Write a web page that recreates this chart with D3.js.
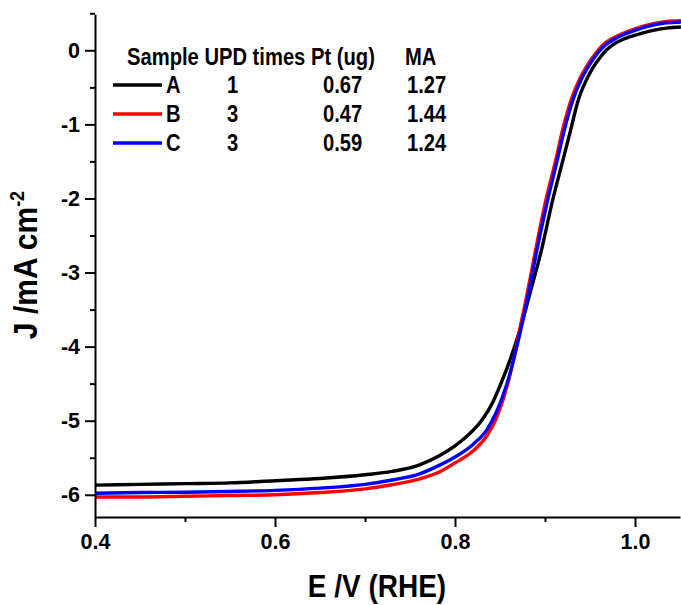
<!DOCTYPE html>
<html>
<head>
<meta charset="utf-8">
<script src="https://cdn.jsdelivr.net/npm/d3@7"></script>
<style>
  html, body { margin: 0; padding: 0; background: #fff; }
  svg { display: block; }
  text { font-family: "Liberation Sans", Arial, sans-serif; font-weight: bold; fill: #000; }
</style>
</head>
<body>
<svg id="chart" width="681" height="605"></svg>
<script>
// ---- Data (E in V vs RHE, J in mA cm^-2) ----
const seriesNames = ["A", "B", "C"];
const seriesColors = ["#000000", "#ff0000", "#0000ff"];

const E_A = [0.40, 0.45, 0.50, 0.55, 0.60, 0.65, 0.70, 0.73, 0.76, 0.783, 0.80, 0.815, 0.83, 0.842, 0.852, 0.862, 0.872, 0.884, 0.896, 0.908, 0.920, 0.929, 0.937, 0.946, 0.954, 0.961, 0.968, 0.976, 0.985, 0.994, 1.01, 1.02, 1.035, 1.051];
const J_A = [-5.87, -5.86, -5.85, -5.84, -5.81, -5.78, -5.73, -5.685, -5.60, -5.47, -5.34, -5.19, -4.99, -4.75, -4.47, -4.15, -3.78, -3.25, -2.70, -2.05, -1.48, -1.05, -0.67, -0.40, -0.22, -0.10, 0.00, 0.08, 0.14, 0.18, 0.24, 0.27, 0.30, 0.314];

const E_B = [0.40, 0.45, 0.50, 0.55, 0.60, 0.65, 0.70, 0.73, 0.76, 0.783, 0.80, 0.82, 0.835, 0.845, 0.853, 0.86, 0.866, 0.871, 0.879, 0.8895, 0.901, 0.912, 0.920, 0.929, 0.938, 0.946, 0.952, 0.959, 0.966, 0.975, 0.985, 1.00, 1.02, 1.035, 1.051];
const J_B = [-6.03, -6.03, -6.02, -6.01, -6.00, -5.97, -5.92, -5.865, -5.79, -5.69, -5.57, -5.41, -5.21, -4.99, -4.73, -4.43, -4.13, -3.82, -3.36, -2.70, -2.02, -1.48, -1.05, -0.67, -0.40, -0.225, -0.11, 0.00, 0.09, 0.16, 0.22, 0.29, 0.36, 0.39, 0.40];

const E_C = [0.40, 0.45, 0.50, 0.55, 0.60, 0.65, 0.70, 0.73, 0.76, 0.783, 0.80, 0.82, 0.835, 0.845, 0.853, 0.86, 0.866, 0.872, 0.880, 0.891, 0.903, 0.9137, 0.922, 0.931, 0.940, 0.948, 0.954, 0.961, 0.968, 0.977, 0.987, 1.00, 1.02, 1.035, 1.051];
const J_C = [-5.98, -5.97, -5.965, -5.955, -5.94, -5.91, -5.86, -5.80, -5.72, -5.60, -5.49, -5.32, -5.13, -4.91, -4.67, -4.41, -4.13, -3.83, -3.38, -2.70, -2.02, -1.48, -1.05, -0.67, -0.40, -0.225, -0.11, 0.00, 0.08, 0.15, 0.21, 0.27, 0.34, 0.37, 0.382];

const xTicks = [0.4, 0.6, 0.8, 1.0];
const xMinorTicks = [0.5, 0.7, 0.9];
const yTicks = [0, -1, -2, -3, -4, -5, -6];
const yMinorTicks = [0.5, -0.5, -1.5, -2.5, -3.5, -4.5, -5.5];

const legendHeader = "Sample UPD times Pt (ug)";
const legendHeader2 = "MA";
const updTimes = ["1", "3", "3"];
const ptMass = ["0.67", "0.47", "0.59"];
const massActivity = ["1.27", "1.44", "1.24"];

// ---- Layout ----
const svg = d3.select("#chart");
const x = d3.scaleLinear().domain([0.4, 1.05]).range([95, 680]);
const y = d3.scaleLinear().domain([-6.3, 0.49]).range([517, 14]);

const series = [
  {name: seriesNames[0], color: seriesColors[0], E: E_A, J: J_A},
  {name: seriesNames[1], color: seriesColors[1], E: E_B, J: J_B},
  {name: seriesNames[2], color: seriesColors[2], E: E_C, J: J_C}
];

// curves
const line = d3.line().x(d => x(d[0])).y(d => y(d[1])).curve(d3.curveMonotoneX);
series.forEach(s => {
  const pts = s.E.map((e, i) => [e, s.J[i]]);
  svg.append("path")
    .attr("d", line(pts))
    .attr("fill", "none")
    .attr("stroke", s.color)
    .attr("stroke-width", 3.4)
    .attr("stroke-linejoin", "round");
});

// axes
const xAxis = d3.axisBottom(x).tickValues(xTicks).tickFormat(d3.format(".1f"))
  .tickSize(10).tickSizeOuter(0).tickPadding(7);
const gx = svg.append("g").attr("transform", `translate(0,${y.range()[0]})`).call(xAxis);
const xMinor = d3.axisBottom(x).tickValues(xMinorTicks).tickFormat("").tickSize(5).tickSizeOuter(0);
const gxm = svg.append("g").attr("transform", `translate(0,${y.range()[0]})`).call(xMinor);
gxm.select(".domain").remove();

const yAxis = d3.axisLeft(y).tickValues(yTicks).tickFormat(d3.format("d"))
  .tickSize(10).tickSizeOuter(0).tickPadding(5);
const gy = svg.append("g").attr("transform", `translate(${x.range()[0]},0)`).call(yAxis);
const yMinor = d3.axisLeft(y).tickValues(yMinorTicks).tickFormat("").tickSize(5).tickSizeOuter(0);
const gym = svg.append("g").attr("transform", `translate(${x.range()[0]},0)`).call(yMinor);
gym.select(".domain").remove();

[gx, gxm, gy, gym].forEach(g => {
  g.selectAll("path, line").attr("stroke", "#000").attr("stroke-width", 2);
  g.selectAll("text").attr("font-size", 21.5).attr("font-family", "Liberation Sans, Arial, sans-serif")
    .attr("font-weight", "bold").attr("fill", "#000");
});
gy.selectAll(".tick text").text(d => d3.format("d")(d).replace("−", "-"));

// axis titles
svg.append("text")
  .attr("transform", "translate(377,597) scale(1,1.15)")
  .attr("text-anchor", "middle")
  .attr("font-size", 28)
  .text("E /V (RHE)");

const yt = svg.append("text")
  .attr("transform", "translate(37,265) rotate(-90) scale(1,1.08)")
  .attr("text-anchor", "middle")
  .attr("font-size", 30);
yt.append("tspan").text("J /mA cm");
yt.append("tspan").attr("font-size", 18).attr("dy", -12).text("-2");

// legend
const lg = svg.append("g");
const headerY = 65, rowY = [93, 122, 151], lineY = [85, 114, 143];
function ltext(xp, yp, str) {
  lg.append("text")
    .attr("transform", `translate(${xp},${yp}) scale(1,1.15)`)
    .attr("font-size", 20.2)
    .text(str);
}
ltext(127, headerY, legendHeader);
ltext(405, headerY, legendHeader2);
series.forEach((s, i) => {
  lg.append("line")
    .attr("x1", 113).attr("x2", 162)
    .attr("y1", lineY[i]).attr("y2", lineY[i])
    .attr("stroke", s.color).attr("stroke-width", 3.4);
  ltext(166, rowY[i], s.name);
  ltext(227, rowY[i], updTimes[i]);
  ltext(323, rowY[i], ptMass[i]);
  ltext(407, rowY[i], massActivity[i]);
});
</script>
</body>
</html>
